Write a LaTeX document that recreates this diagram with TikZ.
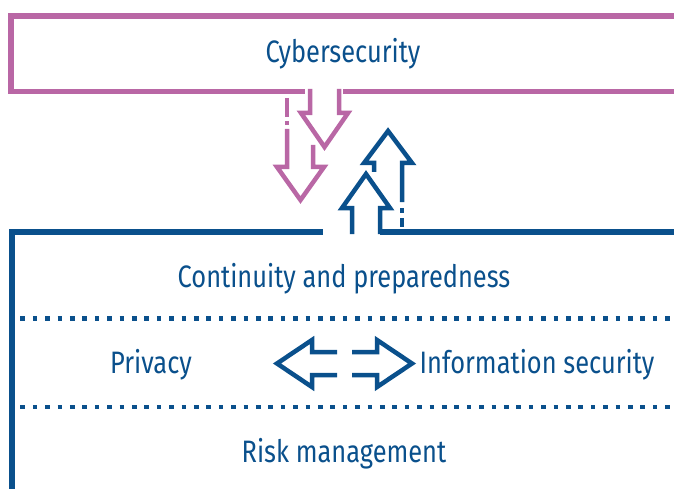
\documentclass[tikz,border=0pt]{standalone}
\usepackage{fontspec}
\setmainfont{Fira Sans}[FakeStretch=0.82]
\definecolor{cyberpink}{RGB}{185,103,165}
\definecolor{frameblue}{RGB}{10,80,140}

\begin{document}
\begin{tikzpicture}[x=1pt, y=-1pt,
        pinkline/.style={draw=cyberpink, line width=5.8pt},
        blueline/.style={draw=frameblue, line width=5.8pt},
        pinkarrow/.style={draw=cyberpink, line width=4.5pt},
        bluearrow/.style={draw=frameblue, line width=4.5pt},
        dotline/.style={draw=frameblue, line width=4.7pt, dash pattern=on 4.7pt off 7.7pt},
        areatext/.style={text=frameblue, font=\fontsize{31}{36}\selectfont, anchor=base}]
        \useasboundingbox (0,0) rectangle (674,489);

        % Cybersecurity box
        \draw[pinkline] (680,16) -- (11,16) -- (11,91.5) -- (305,91.5);
        \draw[pinkline] (343,91.5) -- (680,91.5);
        \node[areatext] (cyber) at (343,63) {Cybersecurity};

        % Pink arrows (big one behind)
        \draw[pinkarrow] (287,98) -- (287,117);
        \draw[pinkarrow] (287,121) -- (287,125);
        \draw[pinkarrow] (287,129) -- (287,167) -- (277,167) -- (300.5,200) -- (324,167) -- (313,167) -- (313,145);
        \draw[pinkarrow] (310,89) -- (310,113) -- (301,113) -- (324.5,147) -- (348,113) -- (339,113) -- (339,89);

        % Lower frame
        \draw[blueline] (12,495) -- (12,232) -- (323,232);
        \draw[blueline] (380,232) -- (680,232);

        % Blue arrows (big one behind)
        \draw[bluearrow] (374,172) -- (374,163) -- (364,163) -- (388,131) -- (412,163) -- (402,163) -- (402,202);
        \draw[bluearrow] (402,208) -- (402,213);
        \draw[bluearrow] (402,218) -- (402,227);
        \draw[bluearrow] (352,234) -- (352,208) -- (342,208) -- (366,174) -- (390,208) -- (380,208) -- (380,234);

        % Layers
        \node[areatext] (continuity) at (344,287) {Continuity and preparedness};
        \draw[dotline] (20.35,318.5) -- (670,318.5);
        \node[areatext] (privacy) at (151,373) {Privacy};
        \node[areatext] (infosec) at (537,373) {Information security};
        \draw[dotline] (20.35,407) -- (670,407);
        \node[areatext] (risk) at (344,462) {Risk management};

        % Exchange arrows
        \draw[bluearrow] (337,352) -- (312,352) -- (312,340) -- (277,363.5) -- (312,387) -- (312,375) -- (337,375);
        \draw[bluearrow] (352,352) -- (377,352) -- (377,340) -- (412,363.5) -- (377,387) -- (377,375) -- (352,375);

\end{tikzpicture}
\end{document}
